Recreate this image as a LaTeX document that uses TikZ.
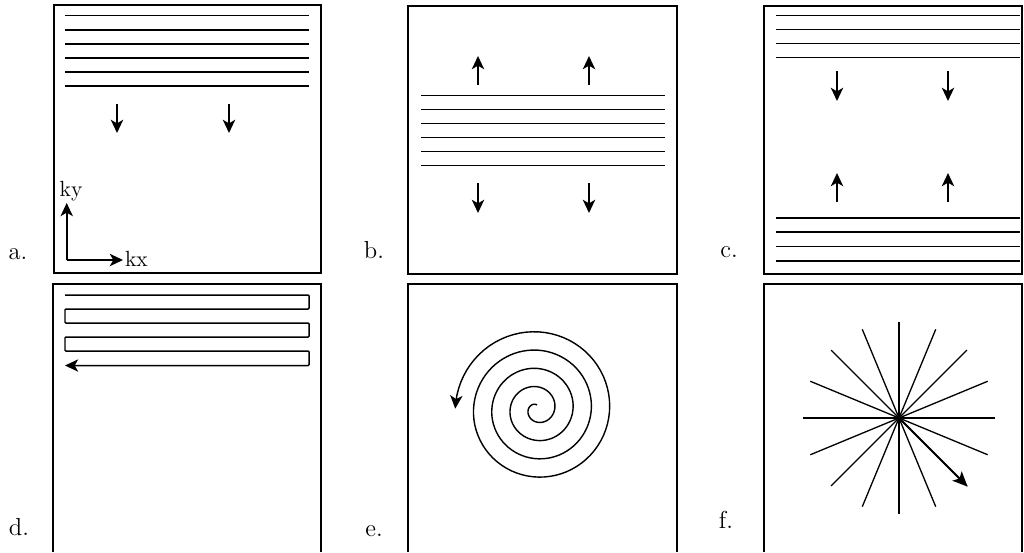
\documentclass[tikz,border=0pt]{standalone}
\usepackage{tikz}
\usetikzlibrary{arrows.meta}

\begin{document}
\begin{tikzpicture}[x=0.02cm, y=-0.02cm, frame/.style={line width=0.7pt}, line/.style={line width=0.85pt}, n/.style={-{Stealth[length=7.5pt, width=7pt, inset=2pt]}, line width=1.1pt}, lbl/.style={anchor=base, inner sep=0pt, font=\fontsize{14}{16}\selectfont}, ax/.style={inner sep=1pt, font=\fontsize{12.5}{14}\selectfont}, ray/.style={line width=0.75pt}]
            \useasboundingbox (0,0) rectangle (1024,552);
            % frames
            \draw[frame] (54,5) rectangle (321,273);
            \draw[frame] (408,6) rectangle (677,274);
            \draw[frame] (764,6) rectangle (1022,274);
            \draw[frame] (53,552) -- (53,284) -- (321,284) -- (321,552);
            \draw[frame] (408,552) -- (408,284) -- (677,284) -- (677,552);
            \draw[frame] (764,552) -- (764,284) -- (1022,284) -- (1022,552);
            % labels
            \node[lbl] (la) at (18,259) {a.};
            \node[lbl] (lb) at (374,258) {b.};
            \node[lbl] (lc) at (729,257) {c.};
            \node[lbl] (ld) at (19,535) {d.};
            \node[lbl] (le) at (374,536) {e.};
            \node[lbl] (lf) at (726,528) {f.};
            % a
            \foreach \y in {15.7,29.8,43.9,58,72.1,86.2}
                \draw[line] (65,\y) -- (309,\y);
            \draw[n] (117,104) -- (117,133);
            \draw[n] (229,104) -- (229,133);
            \coordinate (o) at (66.7,260);
            \node[ax] (ky) at (71,191) {ky};
            \node[ax, anchor=west] (kx) at (123,259) {kx};
            \draw[n] (o) -- (o |- ky.south);
            \draw[n] (o) -- (o -| kx.west);
            % b
            \foreach \y in {95.7,109.7,123.7,137.7,151.7,165.7}
                \draw[line] (421,\y) -- (665,\y);
            \draw[n] (478,85) -- (478,56);
            \draw[n] (589,85) -- (589,56);
            \draw[n] (478,183) -- (478,213);
            \draw[n] (589,183) -- (589,213);
            % c
            \foreach \y in {15.7,29.7,43.7,57.7,218,232,246.5,261}
                \draw[line] (776,\y) -- (1020,\y);
            \draw[n] (837,71) -- (837,101);
            \draw[n] (948,71) -- (948,101);
            \draw[n] (837,202) -- (837,173);
            \draw[n] (948,202) -- (948,173);
            % d
            \draw[n, line width=0.85pt, rounded corners=0.5pt] (65,295) -- (309,295) -- (309,309) -- (65,309) -- (65,323) -- (309,323) -- (309,337) -- (65,337) -- (65,351) -- (309,351) -- (309,365.5) -- (65,365.5);
            % e
            \draw[n, line width=0.8pt] plot[domain=0:4.25, samples=320, variable=\t] ({537+(4+18.3*\t)*cos(90+360*\t)}, {409-(4+18.3*\t)*sin(90+360*\t)});
            % f
            \coordinate (c) at (899,418);
            \foreach \a in {0,22.5,...,337.5}
                \draw[ray] (c) -- ++(\a:96);
            \draw[n, -{Stealth[length=8.5pt, width=7.5pt, inset=2pt]}] (c) -- ++(45:97);
\end{tikzpicture}
\end{document}
